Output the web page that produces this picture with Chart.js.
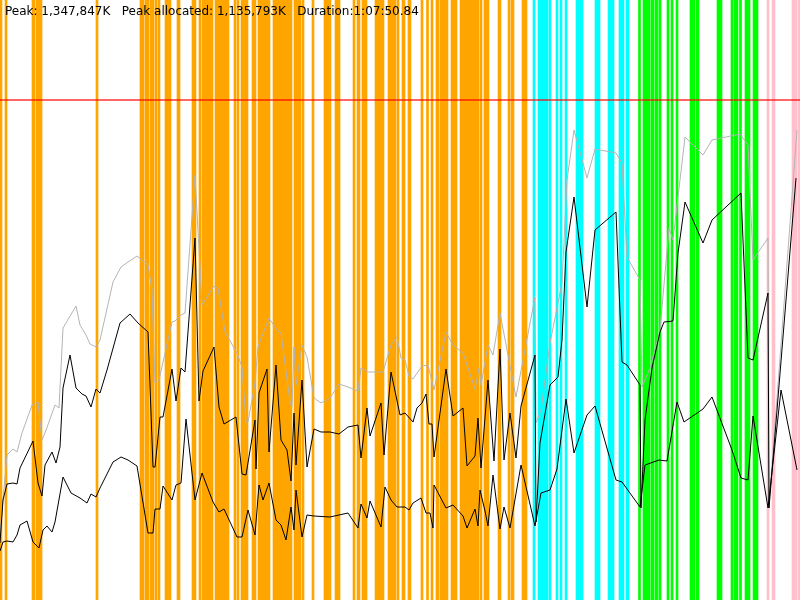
<!DOCTYPE html>
<html>
<head>
<meta charset="utf-8">
<script src="https://cdn.jsdelivr.net/npm/chart.js@4/dist/chart.umd.min.js"></script>
<style>
    body { margin: 0; background: #fff; }
    #wrap { position: relative; width: 800px; height: 600px; overflow: hidden; }
    #summary {
        position: absolute; left: 5px; top: 4px;
        font: 12px "DejaVu Sans", sans-serif; line-height: 14px;
        color: #000; white-space: pre;
    }
</style>
</head>
<body>
<div id="wrap">
    <canvas id="gcChart" width="800" height="600"></canvas>
    <div id="summary"></div>
</div>
<script>
// run spans 0..800 time units, memory read as height above the baseline (0..600)
const summaryText = 'Peak: 1,347,847K   Peak allocated: 1,135,793K   Duration:1:07:50.84';
const peakLevel = 500;

// GC events (stripe times) by kind
const youngEvents = [1, 6, 33, 34, 37, 39, 41, 97, 141, 143, 146, 148, 151, 153, 156, 159,
    166, 168, 170, 178, 179, 193, 195, 200, 203, 205, 207, 209, 211, 212,
    216, 218, 220, 222, 224, 226, 228, 235, 238, 242, 244, 246, 247, 253, 255,
    259, 261, 263, 265, 267, 269, 274, 276, 278, 280, 282, 284, 286, 288, 290, 291,
    295, 297, 299, 300, 303, 313, 325, 327, 329, 330, 336, 338, 339, 354, 358, 359,
    363, 365, 366, 376, 378, 380, 382, 383, 389, 391, 393, 395, 398, 403, 404, 409, 410,
    422, 427.5, 432, 437, 438, 441, 443, 445, 447, 452, 454, 456,
    461, 463, 465, 467, 469, 471, 473, 475, 477, 478, 481, 485, 487, 488,
    499, 500, 509, 512, 513, 523, 525, 526];
const remarkEvents = [534, 539, 541, 543, 545, 547, 550, 557, 561, 566, 577, 579, 581, 582,
    596, 598, 599, 609, 611, 613, 620, 622, 623, 627, 628];
const concurrentEvents = [639.5, 644, 646, 648, 649, 652, 653, 656, 657, 660, 668, 672, 677,
    691, 693, 694, 697, 698, 718, 720, 721, 732, 735, 737, 740.5, 746, 748, 749, 754, 756, 757];
const fullEvents = [768, 773, 774, 793, 795, 796, 799];

// [time, memory]
const totalHeap = [[0, 67], [7, 145], [13, 151], [17, 148], [22, 167], [32, 195], [38, 198], [42, 160],
    [45, 167], [55, 195], [59, 192], [63, 272], [76, 294], [80, 275], [86, 265], [90, 256], [96, 253],
    [100, 260], [113, 318], [121, 333], [128, 338], [137, 344], [148, 335], [152, 310], [155, 217],
    [159, 220], [172, 278], [175, 279], [181, 285], [185, 287], [195, 425], [202, 295], [214, 314],
    [218, 312], [225, 268], [237, 247], [242, 233], [246, 178], [248, 178], [255, 217], [258, 253],
    [269, 282], [277, 270], [281, 267], [290, 198], [292, 193], [294, 253], [296, 215], [302, 255],
    [307, 243], [314, 202], [321, 197], [330, 202], [339, 216], [348, 213], [358, 209], [361, 232],
    [368, 228], [383, 228], [391, 255], [397, 263], [401, 242], [405, 240], [409, 224], [413, 221],
    [422, 234], [428, 235], [434, 210], [446, 268], [453, 255], [463, 247], [475, 211], [479, 232],
    [481, 215], [488, 255], [493, 245], [500, 287], [516, 203], [535, 303], [536, 177], [541, 190],
    [550, 257], [562, 317], [567, 420], [574, 470], [587, 422], [595, 451], [616, 447], [622, 437],
    [627, 343], [640, 320], [642, 213], [650, 232], [660, 270], [669, 372], [673, 360], [685, 463],
    [703, 445], [712, 460], [740, 466], [748, 455], [753, 340], [768, 362], [769, 95], [797, 470]];

const usedBefore = [[0, 57], [3, 100], [7, 116], [13, 117], [17, 116], [20, 132], [33, 159], [38, 117],
    [42, 104], [45, 135], [52, 148], [56, 137], [60, 153], [63, 212], [70, 245], [76, 212], [82, 206],
    [86, 204], [91, 193], [96, 211], [100, 207], [107, 230], [120, 277], [130, 286], [138, 277],
    [148, 268], [153, 133], [155, 133], [160, 183], [163, 183], [172, 231], [176, 199], [181, 232],
    [185, 228], [195, 362], [199, 199], [203, 229], [214, 253], [219, 193], [224, 176], [236, 183],
    [242, 126], [246, 125], [255, 180], [256, 131], [259, 207], [267, 231], [269, 148], [276, 235],
    [281, 160], [287, 150], [291, 119], [294, 187], [296, 135], [302, 220], [307, 133], [314, 171],
    [321, 168], [330, 168], [339, 166], [348, 173], [358, 175], [361, 142], [367, 192], [370, 164],
    [381, 197], [384, 145], [391, 228], [400, 185], [405, 187], [413, 178], [417, 192], [422, 197],
    [426, 206], [429, 176], [432, 176], [434, 143], [446, 231], [453, 184], [463, 192], [467, 134],
    [475, 144], [478, 182], [481, 132], [488, 220], [494, 139], [500, 251], [504, 140], [510, 187],
    [516, 142], [521, 194], [535, 245], [536, 78], [540, 157], [550, 215], [558, 223], [562, 260],
    [566, 348], [574, 403], [587, 293], [595, 370], [616, 388], [622, 238], [627, 235], [640, 215],
    [641, 92], [645, 180], [652, 232], [660, 268], [664, 278], [673, 279], [678, 347], [685, 398],
    [703, 357], [712, 380], [741, 407], [748, 242], [753, 240], [768, 307], [769, 92], [796, 422]];

const usedAfter = [[0, 49], [3, 58], [7, 59], [13, 58], [17, 65], [20, 75], [27, 79], [33, 58], [39, 52],
    [43, 70], [47, 74], [52, 68], [55, 78], [63, 123], [71, 107], [80, 102], [87, 97], [91, 106],
    [96, 103], [100, 112], [113, 138], [121, 143], [128, 140], [137, 134], [148, 67], [153, 67],
    [155, 91], [160, 91], [163, 114], [172, 100], [176, 115], [181, 117], [186, 181], [195, 100],
    [202, 127], [213, 98], [219, 88], [224, 91], [237, 63], [242, 63], [248, 90], [255, 65], [259, 115],
    [263, 100], [269, 117], [276, 80], [281, 75], [286, 60], [291, 93], [294, 70], [296, 110], [302, 63],
    [307, 85], [314, 84], [330, 83], [339, 85], [348, 87], [358, 72], [361, 96], [367, 82], [370, 99],
    [381, 73], [385, 113], [391, 100], [397, 93], [405, 93], [409, 90], [413, 97], [421, 102],
    [426, 87], [430, 87], [433, 72], [434, 115], [446, 92], [453, 95], [463, 84], [467, 72], [475, 91],
    [478, 74], [480, 110], [485, 89], [488, 74], [493, 125], [500, 71], [504, 93], [510, 72],
    [521, 135], [535, 74], [541, 107], [550, 110], [557, 131], [566, 201], [574, 147], [587, 185],
    [595, 194], [616, 120], [622, 118], [640, 93], [645, 135], [659, 140], [667, 139], [677, 198],
    [684, 178], [703, 191], [712, 203], [732, 150], [741, 122], [748, 120], [753, 184], [768, 92],
    [781, 210], [797, 130]];

const xMax = 800;
const yMax = 600;

document.getElementById('summary').textContent = summaryText;

function stripes(times, color) {
    return {
        type: 'bar',
        data: times.map(t => ({ x: t, y: yMax })),
        backgroundColor: color,
        borderWidth: 0,
        barThickness: 2,
        grouped: false,
        order: 10
    };
}

function series(points, color, order) {
    return {
        type: 'line',
        data: points.map(([x, y]) => ({ x, y })),
        borderColor: color,
        borderWidth: 1,
        pointRadius: 0,
        tension: 0,
        fill: false,
        order: order
    };
}

new Chart(document.getElementById('gcChart').getContext('2d'), {
    type: 'line',
    data: {
        datasets: [
            series(usedAfter, '#000000', 0),
            series(usedBefore, '#000000', 1),
            series(totalHeap, 'rgb(180, 180, 180)', 2),
            {
                type: 'line',
                data: [{ x: 0, y: peakLevel }, { x: xMax, y: peakLevel }],
                borderColor: 'rgba(255, 0, 0, 0.6)',
                borderWidth: 2,
                pointRadius: 0,
                order: 3
            },
            stripes(youngEvents, '#FFA500'),
            stripes(remarkEvents, '#00FFFF'),
            stripes(concurrentEvents, '#00FF00'),
            stripes(fullEvents, '#FFC0CB')
        ]
    },
    options: {
        responsive: false,
        animation: false,
        devicePixelRatio: 1,
        layout: { padding: 0 },
        plugins: { legend: { display: false }, tooltip: { enabled: false } },
        scales: {
            x: { type: 'linear', min: 0, max: xMax, offset: false, display: false },
            y: { type: 'linear', min: 0, max: yMax, display: false }
        }
    }
});
</script>
</body>
</html>
